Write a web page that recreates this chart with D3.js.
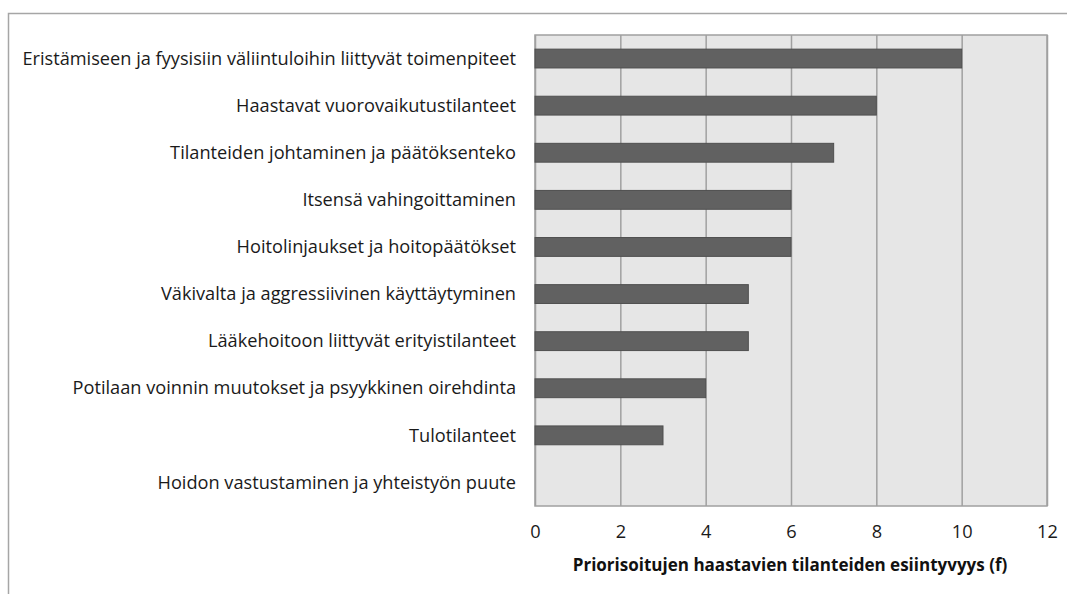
<!DOCTYPE html>
<html><head><meta charset="utf-8">
<script src="https://cdn.jsdelivr.net/npm/d3@7"></script>
<style>body{margin:0;background:#fff}svg{display:block}</style>
</head><body>
<svg id="c" width="1067" height="594"></svg>
<script>
const categories = [
  "Eristämiseen ja fyysisiin väliintuloihin liittyvät toimenpiteet",
  "Haastavat vuorovaikutustilanteet",
  "Tilanteiden johtaminen ja päätöksenteko",
  "Itsensä vahingoittaminen",
  "Hoitolinjaukset ja hoitopäätökset",
  "Väkivalta ja aggressiivinen käyttäytyminen",
  "Lääkehoitoon liittyvät erityistilanteet",
  "Potilaan voinnin muutokset ja psyykkinen oirehdinta",
  "Tulotilanteet",
  "Hoidon vastustaminen ja yhteistyön puute"
];
const values = [10, 8, 7, 6, 6, 5, 5, 4, 3, 0];
const xTicks = [0, 2, 4, 6, 8, 10, 12];
const axisTitle = "Priorisoitujen haastavien tilanteiden esiintyvyys (f)";

const svg = d3.select("#c");
const font = "'Open Sans', sans-serif";
const L = 535, R = 1047, T = 35, B = 506;

// outer frame (top and left)
svg.append("path").attr("d", `M8.5,594 V13.5 H1067`).attr("fill","none").attr("stroke","#a6a6a6").attr("stroke-width",1.5);

const x = d3.scaleLinear().domain([0, 12]).range([L, R]);
const y = d3.scaleBand().domain(categories).range([T, B]).paddingInner(0.6).paddingOuter(0.3);

svg.append("rect").attr("x", L).attr("y", T).attr("width", R-L).attr("height", B-T).attr("fill", "#e6e6e6");

const grid = svg.append("g").attr("transform", `translate(0,${B})`)
  .call(d3.axisBottom(x).tickValues(xTicks).tickSize(-(B-T)).tickFormat(""));
grid.select(".domain").remove();
grid.selectAll("line").attr("stroke", "#a0a0a0").attr("stroke-width", 1.5);

svg.append("rect").attr("x", L).attr("y", T).attr("width", R-L).attr("height", B-T)
  .attr("fill", "none").attr("stroke", "#a0a0a0").attr("stroke-width", 1.5);

svg.append("g").selectAll("rect").data(values).join("rect")
  .attr("x", x(0)).attr("y", (d,i) => y(categories[i]))
  .attr("width", d => x(d) - x(0)).attr("height", y.bandwidth())
  .attr("fill", "#616161").attr("stroke", "#4f4f4f").attr("stroke-width", 1)
  .style("display", d => d > 0 ? null : "none");

// y labels
const yl = svg.append("g").attr("transform", `translate(${L},0)`)
  .call(d3.axisLeft(y).tickSize(0).tickPadding(19));
yl.select(".domain").remove();
yl.selectAll("text").attr("font-family", font).attr("font-size", 16).attr("fill", "#1a1a1a");
// fit font size so the longest label spans the reference width
const longest = d3.max(yl.selectAll("text").nodes(), n => n.getComputedTextLength());
const fs = 16 * 494 / longest;
yl.selectAll("text").attr("font-size", fs).attr("dy", "0.34em");

// x tick labels
const xl = svg.append("g").attr("transform", `translate(0,${B})`)
  .call(d3.axisBottom(x).tickValues(xTicks).tickSize(0).tickPadding(19));
xl.select(".domain").remove();
xl.selectAll("text").attr("font-family", font).attr("font-size", fs).attr("fill", "#1a1a1a");

const title = svg.append("text").attr("x", (L+R)/2 - 1).attr("y", 571).attr("text-anchor","middle")
  .attr("font-family", font).attr("font-size", 16).attr("font-weight", "bold").attr("fill", "#111")
  .text(axisTitle);
const tw = title.node().getComputedTextLength();
title.attr("font-size", 16 * 435 / tw);
</script>
</body></html>
